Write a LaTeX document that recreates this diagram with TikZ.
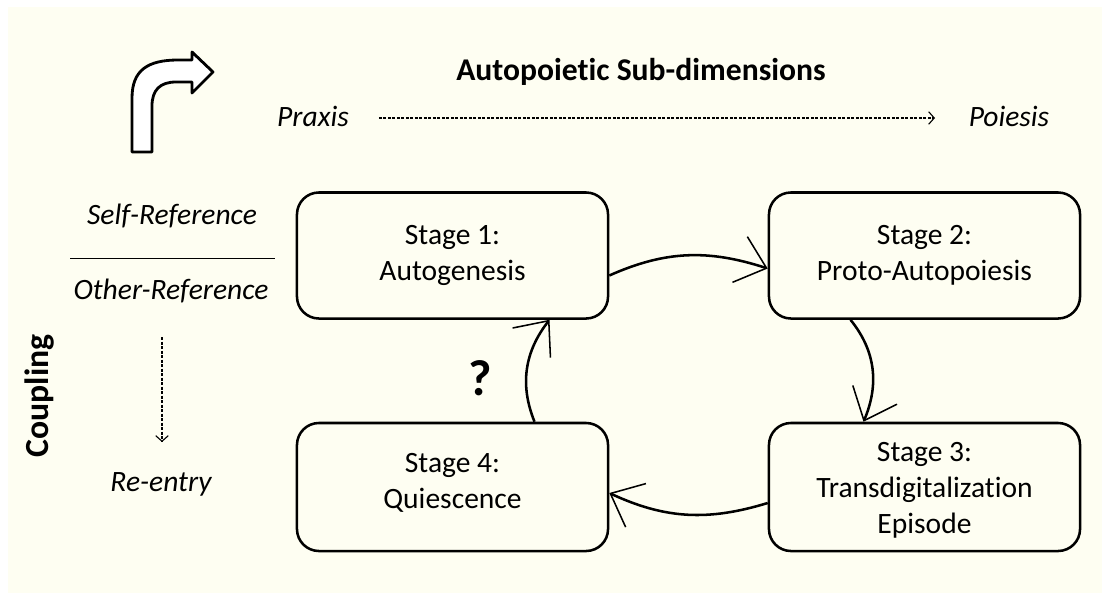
\documentclass[tikz,border=0pt]{standalone}
\usepackage{fontspec}
\setmainfont{Carlito}[Ligatures=NoCommon]
\usetikzlibrary{arrows.meta,calc}
\definecolor{cream}{RGB}{254,254,242}

\tikzset{
  stage/.style={draw,line width=1.8pt,rounded corners=0.55cm,minimum width=7.775cm,
    minimum height=3.15cm,align=center,font=\fontsize{21}{25.6}\selectfont},
  cyc/.style={line width=1.8pt,-{Straight Barb[length=0.7cm,width=1.2cm,line width=1.1pt]}},
  lab/.style={font=\fontsize{21}{25}\selectfont\itshape},
  hint/.style={line width=0.9pt,dash pattern=on 2.2pt off 1pt,
    -{Straight Barb[length=4pt,width=9pt,line width=0.8pt]}}
}

\begin{document}
\begin{tikzpicture}[x=0.025cm,y=0.025cm]
  \useasboundingbox (0,0) rectangle (1102,-593);
  \fill[cream] (8,-7) rectangle (1102,-593);

  % bent arrow
  \draw[line width=2pt,line join=round,fill=white] (132,-152) -- (132,-98)
    .. controls (132,-70) and (148,-60) .. (178,-60) -- (192,-60) -- (192,-52)
    -- (213,-72) -- (192,-93) -- (192,-82) -- (176,-82)
    .. controls (160,-82) and (152,-90) .. (152,-106) -- (152,-152) -- cycle;

  \node (title) at (641,-72) {\fontsize{22.5}{26}\selectfont\bfseries Autopoietic Sub-dimensions};
  \node[lab] (praxis) at (313,-116) {Praxis};
  \node[lab] (poiesis) at (1009,-116) {Poiesis};
  \draw[hint] (praxis.east) ++(25,-2) coordinate (p0) -- (p0 -| 935,0);

  \node[lab] (self) at (172,-216) {Self-Reference};
  \node[lab] (other) at (171,-291) {Other-Reference};
  \node[lab] (reentry) at (161,-484) {Re-entry};
  \draw[line width=0.6pt] (70,-258) -- (275,-258);
  \coordinate (r0) at (162,-337);
  \coordinate (r1) at (162,-442);
  \draw[hint] (r0) -- (r1);
  \node[rotate=90] (coupling) at (40,-396) {\fontsize{24}{28}\selectfont\bfseries Coupling};

  \node[stage] (s1) at (452.5,-255.5) {Stage 1:\\Autogenesis};
  \node[stage] (s2) at (924.5,-255.5) {Stage 2:\\Proto-Autopoiesis};
  \node[stage,minimum height=3.2cm] (s3) at (924.5,-487) {\\[-7.6pt]Stage 3:\\Transdigitalization\\Episode};
  \node[stage,minimum height=3.2cm] (s4) at (452.5,-487) {Stage 4:\\Quiescence\\[-17pt]};

  \draw[cyc] ($(s1.east)+(0,-20)$) to[out=24,in=162] ($(s2.west)+(0,-13)$);
  \draw[cyc] ($(s2.south)+(-74,0)$) to[out=-51,in=67] ($(s3.north)+(-61,0)$);
  \draw[cyc] ($(s3.west)+(0,-16)$) to[out=197,in=-25] ($(s4.east)+(0,-6)$);
  \draw[cyc] ($(s4.north)+(82,0)$) to[out=112,in=232] ($(s1.south)+(97,0)$);

  \node (q) at (480,-378) {\fontsize{36}{40}\selectfont\bfseries ?};
\end{tikzpicture}
\end{document}
